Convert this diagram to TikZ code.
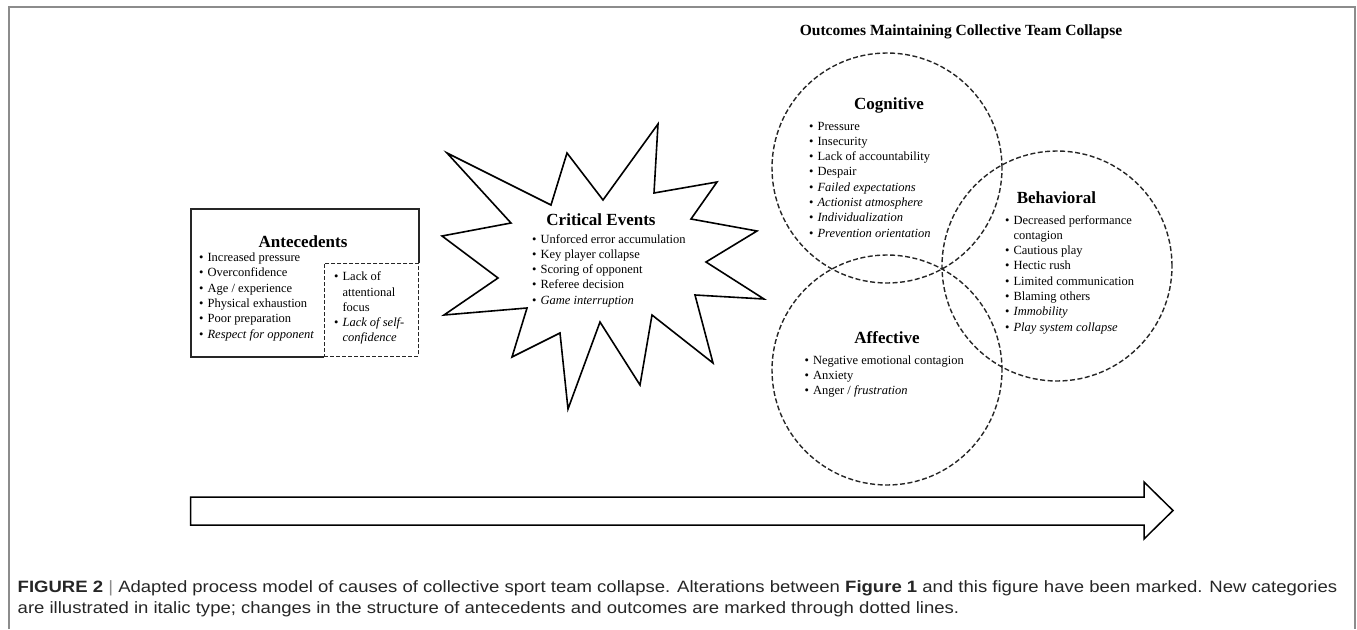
\documentclass[tikz,border=0pt]{standalone}
\usepackage{fontspec}
\setmainfont{Liberation Serif}
\newfontfamily\capfont[FakeStretch=1.13]{Liberation Sans}
\usetikzlibrary{positioning}

\newcommand{\bitem}{•\hspace{4pt}}
\newcommand{\bcont}{\hphantom{•}\hspace{4pt}}
\newcommand{\blist}[1]{\begin{tabular}[t]{@{}l@{}}#1\end{tabular}}

\tikzstyle{frame} = [draw=black!45, line width=2pt]
\tikzstyle{title} = [font=\fontsize{17}{20}\selectfont\bfseries,
inner sep=0pt,
anchor=base]
\tikzstyle{items} = [font=\fontsize{12.5}{15.3}\selectfont,
inner sep=0pt,
anchor=base west]
\tikzstyle{solidbox} = [draw=black!85, line width=2pt]
\tikzstyle{dashbox} = [rectangle,
draw=black!85,
line width=1.5pt,
dash pattern=on 4pt off 2pt,
inner sep=0pt]
\tikzstyle{outcome} = [circle,
draw=black!85,
line width=1.4pt,
dash pattern=on 5pt off 2.5pt,
minimum size=230pt,
inner sep=0pt]
\tikzstyle{burst} = [draw=black, line width=1.6pt, line join=miter]
\tikzstyle{timeline} = [draw=black, line width=1.5pt]

\begin{document}
\begin{tikzpicture}[x=1pt, y=-1pt]
        \useasboundingbox (0,0) rectangle (1357,629);
        \draw [frame] (9,629) -- (9,7) -- (1355,7) -- (1355,629);

        % antecedents
        \node (ante) [inner sep=0pt, minimum width=228pt, minimum height=148pt] at (305,283) {};
        \node (lack) [dashbox, minimum width=94pt, minimum height=93pt, anchor=south east] at (ante.south east) {};
        \draw [solidbox] (lack.north east) -- (ante.north east) -- (ante.north west) -- (ante.south west) -- (lack.south west);
        \node (antetitle) [title] at (303,247) {Antecedents};
        \node (antelist) [items] at (199,261.5) {\blist{\bitem Increased pressure\\ \bitem Overconfidence\\ \bitem Age / experience\\
        \bitem Physical exhaustion\\ \bitem Poor preparation\\ \bitem \textit{Respect for opponent}}};
        \node (lacklist) [items] at (334,280.7) {\blist{\bitem Lack of\\ \bcont attentional\\ \bcont focus\\
        \bitem \textit{Lack of self-}\\ \bcont \textit{confidence}}};

        % critical events
        \draw [burst] (658,124) -- (654,193) -- (717,182) -- (691,219) -- (757,231) -- (706,262) -- (764,299) -- (695,295)
        -- (713,363) -- (652,315) -- (640,385) -- (600,322) -- (568,409) -- (560,333) -- (512,357) -- (527,308)
        -- (444,315) -- (498,278) -- (442,236) -- (511,223) -- (447,153) -- (551,205) -- (567,153) -- (603,200) -- cycle;
        \node (crittitle) [title] at (601,225) {Critical Events};
        \node (critlist) [items] at (532,243) {\blist{\bitem Unforced error accumulation\\ \bitem Key player collapse\\
        \bitem Scoring of opponent\\ \bitem Referee decision\\ \bitem \textit{Game interruption}}};

        % outcomes
        \node (outcomes) [title, font=\fontsize{15.5}{18}\selectfont\bfseries] at (961,35) {Outcomes Maintaining Collective Team Collapse};
        \node (cog) [outcome] at (887,168) {};
        \node (beh) [outcome] at (1057,266) {};
        \node (aff) [outcome] at (887,370) {};

        \node (cogtitle) [title] at (889,109) {Cognitive};
        \node (coglist) [items] at (809,130) {\blist{\bitem Pressure\\ \bitem Insecurity\\ \bitem Lack of accountability\\ \bitem Despair\\
        \bitem \textit{Failed expectations}\\ \bitem \textit{Actionist atmosphere}\\ \bitem \textit{Individualization}\\
        \bitem \textit{Prevention orientation}}};

        \node (behtitle) [title] at (1056.5,203) {Behavioral};
        \node (behlist) [items] at (1005,224) {\blist{\bitem Decreased performance\\ \bcont contagion\\ \bitem Cautious play\\
        \bitem Hectic rush\\ \bitem Limited communication\\ \bitem Blaming others\\ \bitem \textit{Immobility}\\
        \bitem \textit{Play system collapse}}};

        \node (afftitle) [title] at (887,343) {Affective};
        \node (afflist) [items] at (804.5,364) {\blist{\bitem Negative emotional contagion\\ \bitem Anxiety\\
        \bitem Anger / \textit{frustration}}};

        % process arrow
        \draw [timeline] (190.5,497) -- (1144,497) -- (1144,482) -- (1173,510.5) -- (1144,539) -- (1144,525) -- (190.5,525) -- cycle;

        \node (caption) [anchor=base west, inner sep=0pt, text=black!85,
        font=\capfont\fontsize{16.4}{21}\selectfont] at (17.5,592) {\blist{\textbf{FIGURE 2} {\color{black!45}|} Adapted process model of causes of collective sport team collapse. Alterations between \textbf{Figure 1} and this figure have been marked. New categories\\
        are illustrated in italic type; changes in the structure of antecedents and outcomes are marked through dotted lines.}};
\end{tikzpicture}
\end{document}
